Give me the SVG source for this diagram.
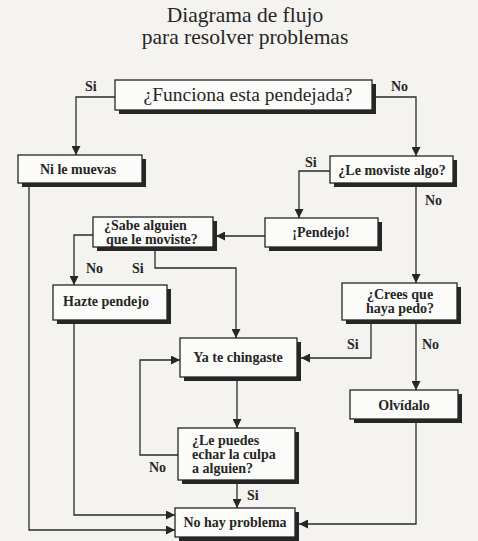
<svg xmlns="http://www.w3.org/2000/svg" width="478" height="541" viewBox="0 0 478 541">
<defs>
<style>
.bg{fill:#f4f3f0}
.sh{fill:#262626}
.bx{fill:#fbfbf9;stroke:#262626;stroke-width:1.3}
.t{font-family:"Liberation Serif","Times New Roman",serif;fill:#262626}
.title{font-size:21.5px}
.big{font-size:19.5px}
.n{font-size:14px;font-weight:bold}
.lb{font-size:14px;font-weight:bold}
.c{fill:none;stroke:#2a2a2a;stroke-width:1.3}
</style>
<marker id="ah" viewBox="0 0 10 10" refX="10" refY="5" markerWidth="9" markerHeight="9" markerUnits="userSpaceOnUse" orient="auto">
<path d="M0,0 L10,5 L0,10 z" fill="#262626"/>
</marker>
</defs>
<rect class="bg" x="0" y="0" width="478" height="541"/>
<g id="title">
<text class="t title" x="245" y="22" text-anchor="middle">Diagrama de flujo</text>
<text class="t title" x="245" y="44" text-anchor="middle">para resolver problemas</text>
</g>
<g id="connectors">
<path class="c" d="M115,97 H76 V155" marker-end="url(#ah)"/>
<path class="c" d="M376,97 H416 V156" marker-end="url(#ah)"/>
<path class="c" d="M330,171 H299 V218" marker-end="url(#ah)"/>
<path class="c" d="M416,187 V283" marker-end="url(#ah)"/>
<path class="c" d="M265,236 H216" marker-end="url(#ah)"/>
<path class="c" d="M93,235 H74 V285" marker-end="url(#ah)"/>
<path class="c" d="M155,251 V268 H236 V338" marker-end="url(#ah)"/>
<path class="c" d="M371,324 V358 H301" marker-end="url(#ah)"/>
<path class="c" d="M416,324 V390" marker-end="url(#ah)"/>
<path class="c" d="M237,381 V428" marker-end="url(#ah)"/>
<path class="c" d="M178,455 H140 V360 H180" marker-end="url(#ah)"/>
<path class="c" d="M237,484 V508" marker-end="url(#ah)"/>
<path class="c" d="M74,324 V515 H175" marker-end="url(#ah)"/>
<path class="c" d="M29,187 V530 H175" marker-end="url(#ah)"/>
<path class="c" d="M416,423 V524 H299" marker-end="url(#ah)"/>
</g>
<g id="labels">
<text class="t lb" x="85" y="91">Si</text>
<text class="t lb" x="391" y="91">No</text>
<text class="t lb" x="305" y="167">Si</text>
<text class="t lb" x="425" y="205">No</text>
<text class="t lb" x="86" y="273">No</text>
<text class="t lb" x="132" y="273">Si</text>
<text class="t lb" x="347" y="349">Si</text>
<text class="t lb" x="422" y="349">No</text>
<text class="t lb" x="149" y="472">No</text>
<text class="t lb" x="247" y="500">Si</text>
</g>
<g id="n-funciona">
<rect class="sh" x="119" y="84" width="257" height="30"/>
<rect class="bx" x="115" y="80" width="257" height="30"/>
<text class="t big" x="248" y="101" text-anchor="middle">¿Funciona esta pendejada?</text>
</g>
<g id="n-nilemuevas">
<rect class="sh" x="22" y="159" width="124" height="28"/>
<rect class="bx" x="18" y="155" width="124" height="28"/>
<text class="t n" x="78" y="174" text-anchor="middle">Ni le muevas</text>
</g>
<g id="n-lemoviste">
<rect class="sh" x="334" y="160" width="123" height="27"/>
<rect class="bx" x="330" y="156" width="123" height="27"/>
<text class="t n" x="392" y="175" text-anchor="middle">¿Le moviste algo?</text>
</g>
<g id="n-pendejo">
<rect class="sh" x="269" y="222" width="113" height="29"/>
<rect class="bx" x="265" y="218" width="113" height="29"/>
<text class="t n" x="321" y="237" text-anchor="middle">¡Pendejo!</text>
</g>
<g id="n-sabe">
<rect class="sh" x="97" y="221" width="120" height="30"/>
<rect class="bx" x="93" y="217" width="120" height="30"/>
<text class="t n" x="104" y="230">¿Sabe alguien</text>
<text class="t n" x="106" y="244">que le moviste?</text>
</g>
<g id="n-hazte">
<rect class="sh" x="57" y="289" width="114" height="35"/>
<rect class="bx" x="53" y="285" width="114" height="35"/>
<text class="t n" x="106" y="306" text-anchor="middle">Hazte pendejo</text>
</g>
<g id="n-crees">
<rect class="sh" x="346" y="287" width="115" height="37"/>
<rect class="bx" x="342" y="283" width="115" height="37"/>
<text class="t n" x="400" y="299" text-anchor="middle">¿Crees que</text>
<text class="t n" x="400" y="313" text-anchor="middle">haya pedo?</text>
</g>
<g id="n-yatechingaste">
<rect class="sh" x="184" y="342" width="117" height="39"/>
<rect class="bx" x="180" y="338" width="117" height="39"/>
<text class="t n" x="238" y="362" text-anchor="middle">Ya te chingaste</text>
</g>
<g id="n-olvidalo">
<rect class="sh" x="354" y="394" width="108" height="29"/>
<rect class="bx" x="350" y="390" width="108" height="29"/>
<text class="t n" x="404" y="410" text-anchor="middle">Olvídalo</text>
</g>
<g id="n-lepuedes">
<rect class="sh" x="182" y="432" width="117" height="52"/>
<rect class="bx" x="178" y="428" width="117" height="52"/>
<text class="t n" x="192" y="445">¿Le puedes</text>
<text class="t n" x="192" y="459">echar la culpa</text>
<text class="t n" x="192" y="473">a alguien?</text>
</g>
<g id="n-nohayproblema">
<rect class="sh" x="179" y="512" width="120" height="29"/>
<rect class="bx" x="175" y="508" width="120" height="29"/>
<text class="t n" x="235" y="527" text-anchor="middle">No hay problema</text>
</g>
</svg>
